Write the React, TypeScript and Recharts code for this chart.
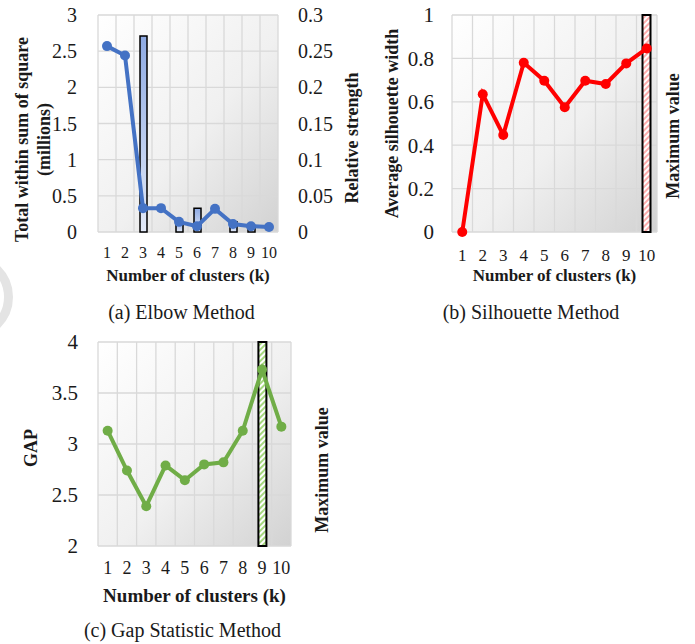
import React from "react";
import { ComposedChart, Line, Bar, XAxis, YAxis, CartesianGrid } from "recharts";

// number of clusters on every x axis
const clusters = [1, 2, 3, 4, 5, 6, 7, 8, 9, 10];

// (a) elbow method
const withinSS = [2.57, 2.44, 0.33, 0.33, 0.14, 0.08, 0.32, 0.11, 0.08, 0.07];
const relStrength = [0, 0, 0.271, 0, 0.014, 0.033, 0, 0.014, 0.005, 0];
const elbowLeftTicks = [0, 0.5, 1, 1.5, 2, 2.5, 3];
const elbowRightTicks = [0, 0.05, 0.1, 0.15, 0.2, 0.25, 0.3];

// (b) silhouette method
const silhouette = [0, 0.635, 0.447, 0.78, 0.697, 0.575, 0.697, 0.682, 0.777, 0.846];
const silhouetteMax = [0, 0, 0, 0, 0, 0, 0, 0, 0, 1];
const silhouetteTicks = [0, 0.2, 0.4, 0.6, 0.8, 1];

// (c) gap statistic
const gap = [3.13, 2.74, 2.39, 2.79, 2.645, 2.8, 2.82, 3.13, 3.73, 3.17];
const gapMax = [0, 0, 0, 0, 0, 0, 0, 0, 1, 0];
const gapTicks = [2, 2.5, 3, 3.5, 4];

const serif = "'Times New Roman', 'Liberation Serif', 'DejaVu Serif', serif";
const ink = "#1a1a1a";
const gridColor = "#d9d9d9";

const elbowData = clusters.map((k, i) => ({ k, wss: withinSS[i], strength: relStrength[i] }));
const silData = clusters.map((k, i) => ({ k, sil: silhouette[i], max: silhouetteMax[i] }));
const gapData = clusters.map((k, i) => ({ k, gap: gap[i], max: gapMax[i] }));

// vertical grid lines sit on the category boundaries, not the centres
const boundaries = ({ offset }: any) =>
  clusters.concat([0]).map((_, i) => offset.left + (i * offset.width) / clusters.length);

const yTitle = (lines: string[], dx: number, dy: number, size = 18) => (props: any) => {
  const vb = props.viewBox || {};
  const cy = vb.y + vb.height / 2 + dy;
  return (
    <g>
      {lines.map((line, i) => {
        const cx = vb.x + dx + i * 22.5;
        return (
          <text
            key={line}
            x={cx}
            y={cy}
            transform={`rotate(-90 ${cx} ${cy})`}
            textAnchor="middle"
            dominantBaseline="central"
            style={{ fontFamily: serif, fontWeight: 700, fontSize: size, fill: ink }}
          >
            {line}
          </text>
        );
      })}
    </g>
  );
};

const xTitle = (dy: number, size: number) => (props: any) => {
  const vb = props.viewBox || {};
  return (
    <text
      x={vb.x + vb.width / 2}
      y={vb.y + dy}
      textAnchor="middle"
      dominantBaseline="central"
      style={{ fontFamily: serif, fontWeight: 700, fontSize: size, fill: ink }}
    >
      Number of clusters (k)
    </text>
  );
};

const PlotBackground = ({ id }: { id: string }) => (
  <linearGradient id={id} x1="0" y1="0" x2="1" y2="1">
    <stop offset="0" stopColor="#ffffff" />
    <stop offset="0.55" stopColor="#f0f0f0" />
    <stop offset="1" stopColor="#d2d2d2" />
  </linearGradient>
);

const Hatch = ({ id, color }: { id: string; color: string }) => (
  <pattern id={id} width="4" height="4" patternUnits="userSpaceOnUse" patternTransform="rotate(45)">
    <rect width="4" height="4" fill="#ffffff" />
    <line x1="1" y1="0" x2="1" y2="4" stroke={color} strokeWidth="1.6" />
  </pattern>
);

const caption = (text: string, cx: number, cy: number) => (
  <div
    style={{
      position: "absolute",
      left: cx - 150,
      top: cy - 13,
      width: 300,
      textAlign: "center",
      fontFamily: serif,
      fontSize: 20,
      lineHeight: "26px",
      color: ink,
    }}
  >
    {text}
  </div>
);

export default function App() {
  return (
    <div style={{ position: "absolute", left: 0, top: 0, width: 695, height: 644, background: "#fff", overflow: "hidden" }}>
      {/* faint watermark ring on the left edge */}
      <div
        style={{
          position: "absolute",
          left: -73,
          top: 254,
          width: 86,
          height: 86,
          boxSizing: "border-box",
          border: "9px solid #e4e4e4",
          borderRadius: "50%",
        }}
      />

      {/* (a) Elbow Method */}
      <div style={{ position: "absolute", left: 0, top: 0 }}>
        <ComposedChart width={372} height={290} data={elbowData} margin={{ top: 15, right: 0, bottom: 0, left: 0 }}>
          <defs>
            <PlotBackground id="bgA" />
            <linearGradient id="barA" x1="0" y1="0" x2="0" y2="1">
              <stop offset="0" stopColor="#8eaae3" />
              <stop offset="1" stopColor="#e3eaf8" />
            </linearGradient>
          </defs>
          <CartesianGrid
            yAxisId="left"
            fill="url(#bgA)"
            stroke={gridColor}
            strokeWidth={1.3}
            verticalCoordinatesGenerator={boundaries}
          />
          <XAxis
            dataKey="k"
            height={58}
            interval={0}
            axisLine={false}
            tickLine={false}
            tickSize={0}
            tickMargin={15}
            tick={{ fontSize: 16, fill: ink, fontFamily: serif }}
            label={xTitle(43, 17)}
          />
          <YAxis
            yAxisId="left"
            width={98}
            domain={[0, 3]}
            ticks={elbowLeftTicks}
            interval={0}
            axisLine={false}
            tickLine={false}
            tickSize={0}
            tickMargin={21}
            tick={{ fontSize: 20, fill: ink, fontFamily: serif }}
            label={yTitle(["Total within sum of square", "(millions)"], 21.5, 16)}
          />
          <YAxis
            yAxisId="right"
            orientation="right"
            width={94}
            domain={[0, 0.3]}
            ticks={elbowRightTicks}
            interval={0}
            axisLine={false}
            tickLine={false}
            tickSize={0}
            tickMargin={20}
            tick={{ fontSize: 20, fill: ink, fontFamily: serif }}
            label={yTitle(["Relative strength"], 73.7, 14.5)}
          />
          <Bar
            yAxisId="right"
            dataKey="strength"
            barSize={7}
            fill="url(#barA)"
            stroke="#000"
            strokeWidth={1.5}
            isAnimationActive={false}
          />
          <Line
            yAxisId="left"
            dataKey="wss"
            stroke="#4472c4"
            strokeWidth={4}
            dot={{ r: 5, fill: "#4472c4", stroke: "#4472c4", strokeWidth: 0 }}
            isAnimationActive={false}
          />
        </ComposedChart>
      </div>

      {/* (b) Silhouette Method */}
      <div style={{ position: "absolute", left: 360, top: 0 }}>
        <ComposedChart width={335} height={290} data={silData} margin={{ top: 15, right: 0, bottom: 0, left: 0 }}>
          <defs>
            <PlotBackground id="bgB" />
            <Hatch id="hatchB" color="#ff9a9a" />
          </defs>
          <CartesianGrid
            yAxisId="left"
            fill="url(#bgB)"
            stroke={gridColor}
            strokeWidth={1.3}
            verticalCoordinatesGenerator={boundaries}
          />
          <XAxis
            dataKey="k"
            height={58}
            interval={0}
            axisLine={false}
            tickLine={false}
            tickSize={0}
            tickMargin={17}
            tick={{ fontSize: 17, fill: ink, fontFamily: serif }}
            label={xTitle(43, 17)}
          />
          <YAxis
            yAxisId="left"
            width={92}
            domain={[0, 1]}
            ticks={silhouetteTicks}
            interval={0}
            axisLine={false}
            tickLine={false}
            tickSize={0}
            tickMargin={18}
            tick={{ fontSize: 21, fill: ink, fontFamily: serif }}
            label={yTitle(["Average silhouette width"], 31.7, 0)}
          />
          <YAxis
            yAxisId="max"
            orientation="right"
            width={38}
            domain={[0, 1]}
            tick={false}
            axisLine={false}
            tickLine={false}
            label={yTitle(["Maximum value"], 16, 12.5)}
          />
          <Bar
            yAxisId="max"
            dataKey="max"
            barSize={8}
            fill="url(#hatchB)"
            stroke="#000"
            strokeWidth={2}
            isAnimationActive={false}
          />
          <Line
            yAxisId="left"
            dataKey="sil"
            stroke="#ff0000"
            strokeWidth={4}
            dot={{ r: 5, fill: "#ff0000", stroke: "#ff0000", strokeWidth: 0 }}
            isAnimationActive={false}
          />
        </ComposedChart>
      </div>

      {/* (c) Gap Statistic Method */}
      <div style={{ position: "absolute", left: 0, top: 320 }}>
        <ComposedChart width={360} height={290} data={gapData} margin={{ top: 22, right: 0, bottom: 0, left: 0 }}>
          <defs>
            <PlotBackground id="bgC" />
            <Hatch id="hatchC" color="#8fcf5e" />
          </defs>
          <CartesianGrid
            yAxisId="left"
            fill="url(#bgC)"
            stroke={gridColor}
            strokeWidth={1.3}
            verticalCoordinatesGenerator={boundaries}
          />
          <XAxis
            dataKey="k"
            height={64}
            interval={0}
            axisLine={false}
            tickLine={false}
            tickSize={0}
            tickMargin={15}
            tick={{ fontSize: 18, fill: ink, fontFamily: serif }}
            label={xTitle(49, 19)}
          />
          <YAxis
            yAxisId="left"
            width={98}
            domain={[2, 4]}
            ticks={gapTicks}
            interval={0}
            axisLine={false}
            tickLine={false}
            tickSize={0}
            tickMargin={20}
            tick={{ fontSize: 21, fill: ink, fontFamily: serif }}
            label={yTitle(["GAP"], 30.5, 4)}
          />
          <YAxis
            yAxisId="max"
            orientation="right"
            width={69}
            domain={[0, 1]}
            tick={false}
            axisLine={false}
            tickLine={false}
            label={yTitle(["Maximum value"], 31, 26)}
          />
          <Bar
            yAxisId="max"
            dataKey="max"
            barSize={8}
            fill="url(#hatchC)"
            stroke="#000"
            strokeWidth={2}
            isAnimationActive={false}
          />
          <Line
            yAxisId="left"
            dataKey="gap"
            stroke="#70ad47"
            strokeWidth={4}
            dot={{ r: 5, fill: "#70ad47", stroke: "#70ad47", strokeWidth: 0 }}
            isAnimationActive={false}
          />
        </ComposedChart>
      </div>

      {caption("(a) Elbow Method", 181.5, 312)}
      {caption("(b) Silhouette Method", 531, 312)}
      {caption("(c) Gap Statistic Method", 182.5, 630)}
    </div>
  );
}
